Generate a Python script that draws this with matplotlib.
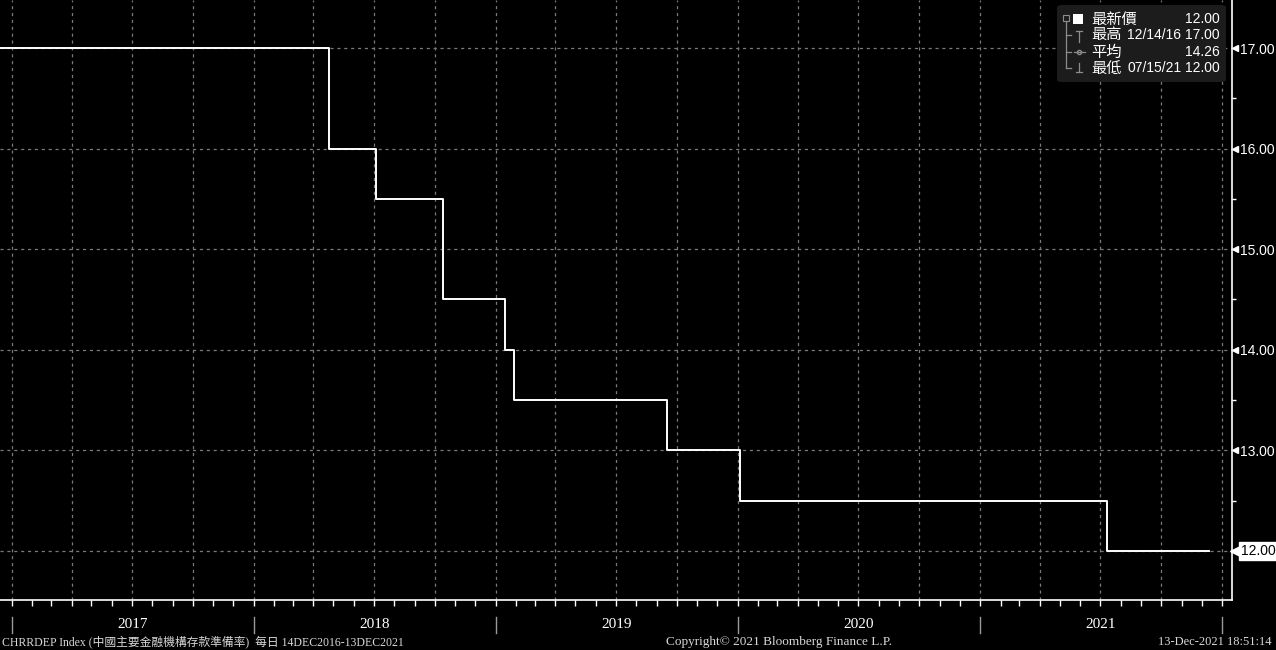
import matplotlib
matplotlib.use('Agg')
import matplotlib.pyplot as plt
import matplotlib.dates as mdates
from matplotlib.patches import FancyBboxPatch, Rectangle
from matplotlib.transforms import blended_transform_factory, ScaledTranslation
import pandas as pd

# step changes of the reserve requirement ratio (date the new level starts)
change_dates = ['2016-12-14', '2018-04-25', '2018-07-05', '2018-10-13', '2019-01-15',
                '2019-01-28', '2019-09-16', '2020-01-04', '2021-07-12', '2021-12-13']
rates = [17.0, 16.0, 15.5, 14.5, 14.0, 13.5, 13.0, 12.5, 12.0, 12.0]

y_ticks = [12, 13, 14, 15, 16, 17]
years = [2017, 2018, 2019, 2020, 2021]

legend_rows = [('最新價', '', '12.00'),
               ('最高', '12/14/16', '17.00'),
               ('平均', '', '14.26'),
               ('最低', '07/15/21', '12.00')]

footer_left = 'CHRRDEP Index (中國主要金融機構存款準備率)  每日 14DEC2016-13DEC2021'
footer_mid = 'Copyright© 2021 Bloomberg Finance L.P.'
footer_right = '13-Dec-2021 18:51:14'

dates = pd.to_datetime(change_dates)

fig = plt.figure(figsize=(12.76, 6.5), dpi=100, facecolor='black')
ax = fig.add_axes([0, 50 / 650, 1232 / 1276, 600 / 650], facecolor='black')

ax.plot(dates, rates, drawstyle='steps-post', color='white', lw=1.4, zorder=3)

ax.set_xlim(pd.Timestamp('2016-12-14'), pd.Timestamp('2022-01-16'))
ax.set_ylim(11.51, 17.48)

# axes styling
for s in ['left', 'top']:
    ax.spines[s].set_visible(False)
for s in ['right', 'bottom']:
    ax.spines[s].set_color('white')
    ax.spines[s].set_linewidth(1.2)

num_font = ['Liberation Sans', 'DejaVu Sans']
ax.yaxis.tick_right()
ax.set_yticks(y_ticks)
ax.set_yticklabels(['' if v == rates[-1] else f'{v:.2f}' for v in y_ticks],
                   family=num_font)
ax.set_yticks([v + 0.5 for v in y_ticks[:-1]], minor=True)
ax.tick_params(axis='y', which='major', length=0, pad=6, labelcolor='white', labelsize=10)
ax.tick_params(axis='y', which='minor', length=3, color='white', width=1)

ax.xaxis.set_major_locator(mdates.MonthLocator(bymonth=[1, 4, 7, 10]))
ax.xaxis.set_minor_locator(mdates.MonthLocator())
ax.tick_params(axis='x', which='both', length=4, color='white', width=1,
               labelbottom=False, direction='out')

ax.grid(True, which='major', color='#7a7a7a', ls=(0, (2.5, 3)), lw=0.9)

# tick arrows on the right axis
blend = blended_transform_factory(ax.transAxes, ax.transData)
arrow_tr = blend + ScaledTranslation(0.03, 0, fig.dpi_scale_trans)
ax.plot([1] * (len(y_ticks) - 1), y_ticks[1:], ls='none', marker='<', ms=5,
        color='white', transform=arrow_tr, clip_on=False)

# last value label
ax.plot([1], [rates[-1]], ls='none', marker='<', ms=8, color='white',
        transform=blend + ScaledTranslation(0.04, 0, fig.dpi_scale_trans), clip_on=False)
ax.text(1.0, rates[-1], f'{rates[-1]:.2f}',
        transform=blend + ScaledTranslation(0.09, 0, fig.dpi_scale_trans),
        ha='left', va='center', fontsize=10, color='black', family=num_font,
        bbox=dict(boxstyle='square,pad=0.15', fc='white', ec='white'))

# year band under the axis
yr_tr = blended_transform_factory(ax.transData, fig.transFigure)
for y in years + [years[-1] + 1]:
    ax.plot([pd.Timestamp(f'{y}-01-01')] * 2, [17 / 650, 33 / 650], color='#9a9a9a',
            lw=1, transform=yr_tr, clip_on=False)
for y in years:
    ax.text(pd.Timestamp(f'{y}-07-02'), 25 / 650, str(y), transform=yr_tr, ha='center',
            va='center', color='white', fontsize=11, family=['Liberation Serif'])

ser = ['Liberation Serif', 'Noto Sans CJK TC']
fig.text(2 / 1276, 8 / 650, footer_left, color='#d8d8d8', fontsize=8.5, family=ser,
         ha='left', va='center')
fig.text(779 / 1276, 8 / 650, footer_mid, color='#d8d8d8', fontsize=9.5, family=ser,
         ha='center', va='center')
fig.text(1272 / 1276, 8 / 650, footer_right, color='#d8d8d8', fontsize=9, family=ser,
         ha='right', va='center')

# legend box
W, H = 1232, 600
ax.add_patch(FancyBboxPatch((1057 / W, 1 - 82 / H), 169 / W, 77 / H,
                            boxstyle='round,pad=0,rounding_size=0.004',
                            transform=ax.transAxes, fc='#1c1c1c', ec='none', zorder=5,
                            clip_on=False))
leg_font = ['Noto Sans CJK TC', 'DejaVu Sans']
row_y = [19, 35, 52, 68]
for (lab, dt, val), yy in zip(legend_rows, row_y):
    fy = 1 - yy / H
    ax.text(1091 / W, fy, lab, transform=ax.transAxes, color='white', fontsize=11,
            family=leg_font, ha='left', va='center', zorder=6)
    if dt:
        ax.text(1127 / W, fy, dt, transform=ax.transAxes, color='white', fontsize=10,
                family=num_font, ha='left', va='center', zorder=6)
    ax.text(1220 / W, fy, val, transform=ax.transAxes, color='white', fontsize=10,
            family=num_font, ha='right', va='center', zorder=6)

# legend icons
g = '#8c8c8c'
ax.add_patch(Rectangle((1073 / W, 1 - 24 / H), 10 / W, 10 / H, transform=ax.transAxes,
                       fc='white', ec='none', zorder=6))
ax.add_patch(Rectangle((1063 / W, 1 - 21 / H), 6 / W, 6 / H, transform=ax.transAxes,
                       fc='none', ec=g, lw=0.8, zorder=6))
lines = [((1066, 1066), (21, 68)), ((1066, 1071), (35, 35)), ((1066, 1071), (52, 52)),
         ((1066, 1071), (68, 68)),
         ((1079, 1079), (31, 42)), ((1076, 1082), (31, 31)),
         ((1074, 1085), (52, 52)),
         ((1079, 1079), (63, 72)), ((1076, 1082), (72, 72))]
for xs, ys in lines:
    ax.plot([x / W for x in xs], [1 - y / H for y in ys], color=g, lw=0.9,
            transform=ax.transAxes, zorder=6, clip_on=False)
ax.plot([1079 / W], [1 - 52 / H], marker='o', ms=3, mfc='none', mec=g,
        transform=ax.transAxes, zorder=6)

fig.savefig('out.png', dpi=100, facecolor='black')
